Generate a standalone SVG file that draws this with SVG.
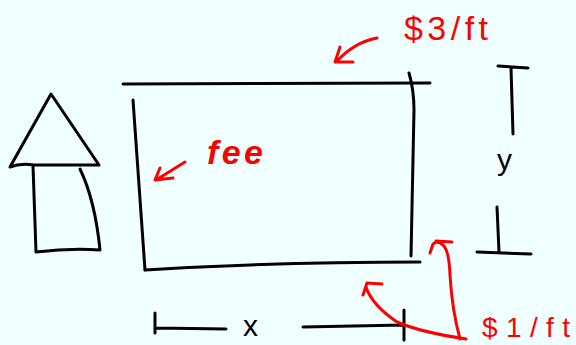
<svg xmlns="http://www.w3.org/2000/svg" width="576" height="345" viewBox="0 0 576 345">
<style>
.k{fill:none;stroke:#000;stroke-width:3;stroke-linecap:round;stroke-linejoin:round}
.r{fill:none;stroke:#f00;stroke-width:3;stroke-linecap:round;stroke-linejoin:round}
.t{font-family:"Liberation Sans",Arial,sans-serif;fill:#f00}
.b{font-family:"Liberation Sans",Arial,sans-serif;fill:#000}
</style>
<rect width="576" height="345" fill="#f0ffff"/>
<g id="field">
<path class="k" d="M123,84 L430,83"/>
<path class="k" d="M133,100 L145,270"/>
<path class="k" d="M145,270 Q280,262 420,262"/>
<path class="k" d="M409,73 Q414,90 414,110 L411,256"/>
</g>
<g id="arrow-up">
<path class="k" d="M51,94 L10,167 Q20,163 34,165 L99,165 Z"/>
<path class="k" d="M33,166 L36,252 Q70,248 100,250 Q95,200 80,169"/>
</g>
<g id="dim-y">
<path class="k" d="M498,66 L528,68 M511,68 L513,134 M497,207 L499,252 M477,252 L531,254"/>
<text class="b" x="497" y="170" font-size="30">y</text>
</g>
<g id="dim-x">
<path class="k" d="M155,313 L155,333 M156,328 L226,329 M303,327 L404,325 M404,310 L404,340"/>
<text class="b" x="243" y="336" font-size="30">x</text>
</g>
<g id="label-3ft">
<text class="t" x="404" y="40" font-size="34" textLength="84" lengthAdjust="spacing">$3/ft</text>
</g>
<g id="label-fee">
<text class="t" x="207" y="164" font-size="34" font-style="italic" font-weight="bold" textLength="56" lengthAdjust="spacing">fee</text>
</g>
<g id="label-1ft">
<text class="t" x="482" y="337" font-size="28" textLength="88" lengthAdjust="spacing">$1/ft</text>
</g>
<g id="connectors">
<path class="r" d="M377,38 Q355,42 337,61 M340,47 L335,62 L353,62"/>
<path class="r" d="M185,162 L156,180 M160,168 L155,180 L173,178"/>
<path class="r" d="M460,339 Q452,310 450,275 Q449,250 443,245 Q437,240 433,244 L430,253 M436,241 L452,242"/>
<path class="r" d="M466,339 Q420,332 397,322 Q372,305 366,287 M363,295 L367,283 L382,284"/>
</g>
</svg>
